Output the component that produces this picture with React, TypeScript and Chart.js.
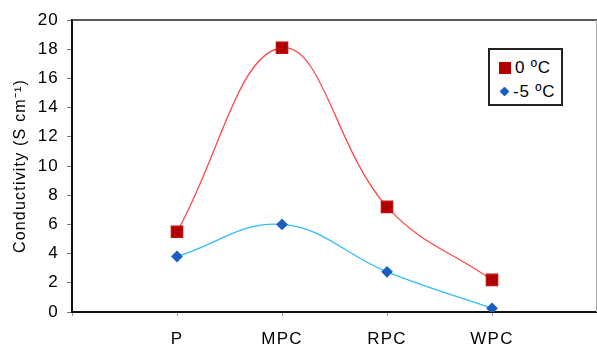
import React, { useEffect, useRef } from "react";
import { Chart, registerables } from "chart.js";

Chart.register(...registerables);

const categories = ["", "P", "MPC", "RPC", "WPC", ""];
const series0Label = "0 ºC";
const series5Label = "-5 ºC";
const series0 = [null, 5.5, 18.1, 7.2, 2.2, null];
const series5 = [null, 3.8, 6.0, 2.75, 0.25, null];
const yTicks = [0, 2, 4, 6, 8, 10, 12, 14, 16, 18, 20];
const yTitle = "Conductivity (S cm⁻¹)";

const FONT = "'Liberation Sans', Arial, Helvetica, sans-serif";

const spacingPlugin = {
  id: "spacing",
  beforeUpdate(chart: any) {
    chart.ctx.letterSpacing = "1.2px";
  },
  beforeDraw(chart: any) {
    chart.ctx.letterSpacing = "1.2px";
  },
};

const framePlugin = {
  id: "frame",
  afterDraw(chart: any) {
    const { ctx, chartArea } = chart;
    ctx.save();
    ctx.strokeStyle = "#222";
    ctx.lineWidth = 1.5;
    ctx.beginPath();
    ctx.moveTo(chartArea.left, chartArea.top);
    ctx.lineTo(chartArea.right, chartArea.top);
    ctx.stroke();
    ctx.strokeStyle = "#aaa";
    ctx.lineWidth = 1;
    ctx.beginPath();
    ctx.moveTo(chartArea.right - 0.5, chartArea.top);
    ctx.lineTo(chartArea.right - 0.5, chartArea.bottom);
    ctx.stroke();
    ctx.restore();
  },
};

export default function App() {
  const ref = useRef<HTMLCanvasElement>(null);
  useEffect(() => {
    const chart = new Chart(ref.current as HTMLCanvasElement, {
      type: "line",
      data: {
        labels: categories,
        datasets: [
          {
            label: series0Label,
            data: series0 as any,
            borderColor: "#ff4a4a",
            borderWidth: 1.3,
            backgroundColor: "#b00000",
            pointBackgroundColor: "#b00000",
            pointBorderColor: "#c01010",
            pointStyle: "rect",
            pointRadius: 8,
            tension: 0.4,
          },
          {
            label: series5Label,
            data: series5 as any,
            borderColor: "#33bbff",
            borderWidth: 1.3,
            backgroundColor: "#1a5fc0",
            pointBackgroundColor: "#1a5fc0",
            pointBorderColor: "#1a5fc0",
            pointStyle: "rectRot",
            pointRadius: 5,
            tension: 0.4,
          },
        ],
      },
      options: {
        animation: false,
        responsive: true,
        maintainAspectRatio: false,
        layout: { autoPadding: false, padding: { top: 20, right: 0, left: 0, bottom: 0 } },
        plugins: {
          legend: { display: false },
          tooltip: { enabled: false },
        },
        scales: {
          x: {
            offset: false,
            grid: { drawOnChartArea: false, drawTicks: true, tickLength: 4, color: "#999" },
            border: { color: "#111", width: 2 },
            ticks: { color: "#000", font: { family: FONT, size: 17 }, padding: 13, maxRotation: 0, autoSkip: false },
            afterFit: (s: any) => {
              s.height = 33;
              s.paddingLeft = 0;
              s.paddingRight = 0;
            },
          },
          y: {
            min: 0,
            max: 20,
            afterBuildTicks: (s: any) => { s.ticks = yTicks.map((v) => ({ value: v })); },
            grid: { drawOnChartArea: false, drawTicks: true, tickLength: 5, color: "#777" },
            border: { color: "#111", width: 2 },
            ticks: { color: "#000", font: { family: FONT, size: 17 }, padding: 8 },
            title: { display: true, text: yTitle, color: "#000", font: { family: FONT, size: 16 }, padding: { top: 11, bottom: 0 } },
            afterFit: (s: any) => {
              s.width = 72;
              s.paddingTop = 0;
              s.paddingBottom = 0;
            },
          },
        },
      },
      plugins: [spacingPlugin, framePlugin],
    });
    return () => chart.destroy();
  }, []);

  return (
    <div style={{ position: "absolute", left: 0, top: 0, width: 597, height: 345, background: "#fff" }}>
      <canvas ref={ref} />
      <div
        style={{
          position: "absolute",
          left: 488,
          top: 48,
          width: 71,
          height: 54,
          border: "2px solid #222",
          background: "#fff",
          fontFamily: FONT,
          fontSize: 17,
          letterSpacing: "0.8px",
          color: "#000",
          boxSizing: "content-box",
        }}
      >
        <div style={{ position: "absolute", left: 9, top: 12, width: 12, height: 12, background: "#b00000" }} />
        <div style={{ position: "absolute", left: 25, top: 8, lineHeight: "19px", whiteSpace: "nowrap" }}>{series0Label}</div>
        <div
          style={{
            position: "absolute",
            left: 11,
            top: 38,
            width: 7,
            height: 7,
            background: "#1a5fc0",
            transform: "rotate(45deg)",
            borderRadius: 1,
          }}
        />
        <div style={{ position: "absolute", left: 23, top: 32, lineHeight: "19px", whiteSpace: "nowrap" }}>{series5Label}</div>
      </div>
    </div>
  );
}
